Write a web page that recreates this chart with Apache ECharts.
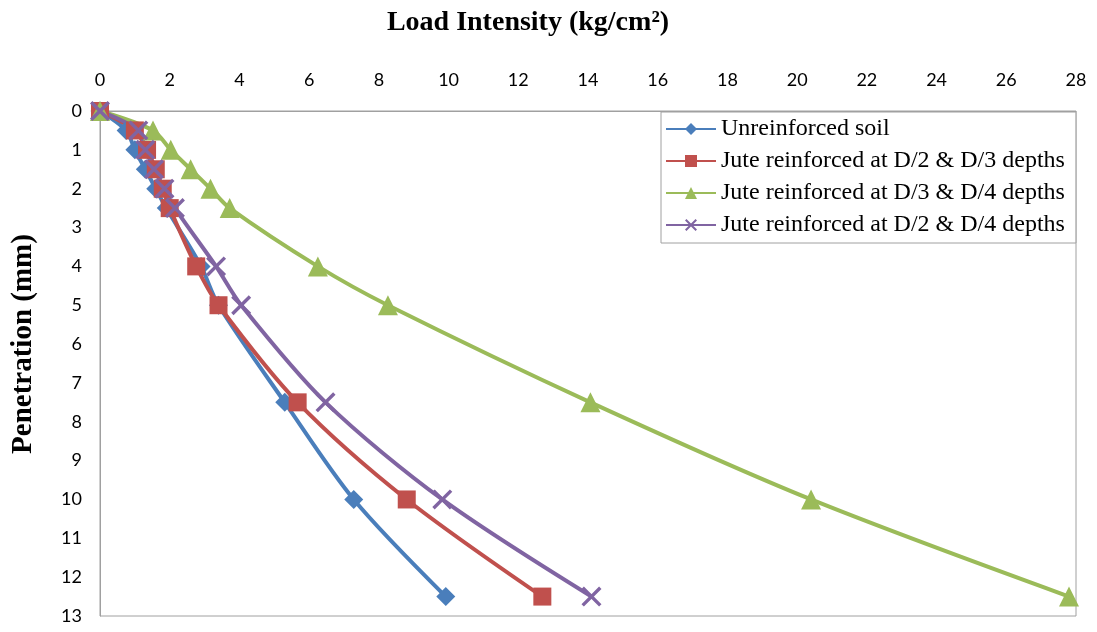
<!DOCTYPE html>
<html><head><meta charset="utf-8">
<script src="https://cdn.jsdelivr.net/npm/echarts@6/dist/echarts.min.js"></script>
<style>html,body{margin:0;padding:0;background:#fff}#c{width:1097px;height:632px}</style>
</head><body><div id="c"></div>
<script>
const penetration = [0, 0.5, 1, 1.5, 2, 2.5, 4, 5, 7.5, 10, 12.5];
const unreinforced = [0, 0.75, 1.0, 1.3, 1.6, 1.9, 2.9, 3.4, 5.3, 7.28, 9.92];
const juteD2D3 = [0, 1.0, 1.35, 1.6, 1.8, 2.0, 2.76, 3.4, 5.67, 8.8, 12.69];
const juteD3D4 = [0, 1.52, 2.03, 2.6, 3.17, 3.72, 6.25, 8.26, 14.07, 20.4, 27.8];
const juteD2D4 = [0, 1.1, 1.3, 1.55, 1.85, 2.15, 3.33, 4.05, 6.47, 9.82, 14.1];
const seriesNames = ['Unreinforced soil', 'Jute reinforced at D/2 & D/3 depths', 'Jute reinforced at D/3 & D/4 depths', 'Jute reinforced at D/2 & D/4 depths'];
const xTitle = 'Load Intensity (kg/cm\u00B2)';
const yTitle = 'Penetration (mm)';

const pairs = arr => arr.map((v, i) => [v, penetration[i]]);
const crossPath = 'path://M0,1.2 L1.2,0 L10,8.8 L8.8,10 Z M8.8,0 L10,1.2 L1.2,10 L0,8.8 Z';
const cfg = [
  {data: unreinforced, color: '#4a7ebb', symbol: 'diamond', size: 19},
  {data: juteD2D3, color: '#c0504d', symbol: 'rect', size: 18},
  {data: juteD3D4, color: '#9bbb59', symbol: 'triangle', size: 20},
  {data: juteD2D4, color: '#8064a2', symbol: crossPath, size: 20}
];

const chart = echarts.init(document.getElementById('c'));
chart.setOption({
  animation: false,
  backgroundColor: '#fff',
  title: {
    text: xTitle, left: 523, top: 4, textAlign: 'center',
    textStyle: {fontFamily: 'Liberation Serif', fontWeight: 'bold', fontSize: 28, color: '#000'}
  },
  graphic: [{
    type: 'text', x: 24, y: 344, rotation: Math.PI / 2,
    style: {text: yTitle, align: 'center', verticalAlign: 'middle',
      font: 'bold 29px "Liberation Serif"', fill: '#000'}
  }],
  grid: {left: 100, right: 21, top: 111, bottom: 16, show: true, borderColor: '#a0a0a0', borderWidth: 1},
  legend: {
    orient: 'vertical', left: 661, top: 112, width: 410,
    backgroundColor: '#fff', borderColor: '#a0a0a0', borderWidth: 1,
    padding: [5, 11, 6, 4], itemGap: 8, itemWidth: 50, itemHeight: 15,
    textStyle: {fontFamily: 'Liberation Serif', fontSize: 24, color: '#000'},
    data: seriesNames
  },
  xAxis: {
    type: 'value', position: 'top', min: 0, max: 28, interval: 2,
    axisLine: {show: true, lineStyle: {color: '#a0a0a0'}},
    axisTick: {show: false}, splitLine: {show: false},
    axisLabel: {fontFamily: 'Lato', fontSize: 18, color: '#000', margin: 22}
  },
  yAxis: {
    type: 'value', inverse: true, min: 0, max: 13, interval: 1,
    axisLine: {show: true, lineStyle: {color: '#a0a0a0'}},
    axisTick: {show: false}, splitLine: {show: false},
    axisLabel: {fontFamily: 'Lato', fontSize: 18, color: '#000', margin: 18}
  },
  series: cfg.map((c, i) => ({
    name: seriesNames[i], type: 'line', data: pairs(c.data),
    smooth: 0.3, symbol: c.symbol, symbolSize: c.size, showSymbol: true,
    lineStyle: {color: c.color, width: 4},
    itemStyle: {color: c.color}
  }))
});
</script></body></html>
